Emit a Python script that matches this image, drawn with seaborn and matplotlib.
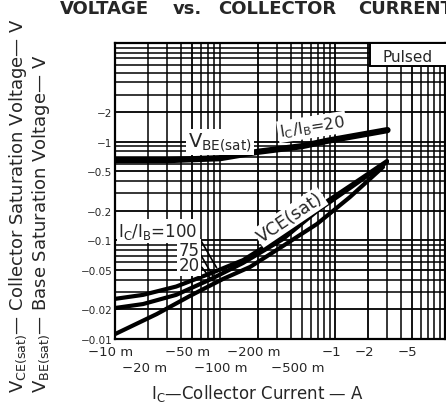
import numpy as np
import pandas as pd
import matplotlib
matplotlib.use("Agg")
import matplotlib.pyplot as plt
import matplotlib.ticker as mticker
import matplotlib.transforms as mtransforms
from matplotlib.patches import Rectangle
import seaborn as sns

# Courbes (valeurs absolues, PNP -> etiquettes negatives)
ic_vbe = [0.01, 0.03, 0.09, 0.2, 0.5, 0.85, 1.7, 3.0]
vbe_20 = [0.65, 0.65, 0.68, 0.79, 0.9, 1.02, 1.17, 1.31]

ic_vce = [0.01, 0.018, 0.036, 0.073, 0.146, 0.337, 0.686, 1.37, 2.97]
vce_100 = [0.0255, 0.028, 0.034, 0.046, 0.063, 0.113, 0.213, 0.356, 0.637]
vce_75 = [0.0206, 0.0226, 0.028, 0.040, 0.059, 0.103, 0.198, 0.339, 0.622]
ic_vce_20 = [0.01, 0.024, 0.048, 0.096, 0.169, 0.337, 0.686, 1.37, 2.73]
vce_20 = [0.0112, 0.0179, 0.0273, 0.0406, 0.0537, 0.0877, 0.1465, 0.275, 0.553]

# Graduations : deux rangees sous l'axe x
x_ticks_row1 = [0.01, 0.05, 0.2, 1, 2, 5]
x_labels_row1 = ["−10 m", "−50 m", "−200 m", "−1", "−2", "−5"]
x_ticks_row2 = [0.02, 0.1, 0.5]
x_labels_row2 = ["−20 m", "−100 m", "−500 m"]
y_ticks = [0.01, 0.02, 0.05, 0.1, 0.2, 0.5, 1, 2]
y_labels = ["−0.01", "−0.02", "−0.05", "−0.1", "−0.2", "−0.5", "−1", "−2"]

sns.set_style("white")
plt.rcParams["font.family"] = "DejaVu Sans"
plt.rcParams["mathtext.fontset"] = "dejavusans"

fig = plt.figure(figsize=(4.46, 4.06), dpi=100)
ax = fig.add_axes([0.2578, 0.1626, 0.740, 0.729])

ax.set_xscale("log")
ax.set_yscale("log")
ax.set_xlim(0.01, 10)
ax.set_ylim(0.01, 10)

# Grille dense facon papier log
ax.xaxis.set_minor_locator(mticker.LogLocator(base=10, subs=np.arange(2, 10)))
ax.yaxis.set_minor_locator(mticker.LogLocator(base=10, subs=np.arange(2, 10)))
ax.xaxis.set_minor_formatter(mticker.NullFormatter())
ax.yaxis.set_minor_formatter(mticker.NullFormatter())
ax.grid(which="major", color="black", lw=1.3, zorder=0)
ax.grid(which="minor", color="black", lw=1.1, zorder=0)
ax.set_axisbelow(True)
for sp in ax.spines.values():
    sp.set_color("black")
    sp.set_linewidth(1.6)

ax.set_xticks(x_ticks_row1)
ax.set_xticklabels(x_labels_row1, fontsize=9.5)
ax.set_yticks(y_ticks)
ax.set_yticklabels(y_labels, fontsize=7.5)
ax.tick_params(which="both", length=0)
ax.tick_params(axis="x", pad=4)
ax.tick_params(axis="y", pad=2)

sec = ax.secondary_xaxis("bottom")
sec.set_xticks(x_ticks_row2)
sec.set_xticklabels(x_labels_row2, fontsize=9.5)
sec.xaxis.set_minor_locator(mticker.NullLocator())
sec.tick_params(which="both", length=0, pad=16)
sec.spines["bottom"].set_visible(False)

offset = mtransforms.ScaledTranslation(-0.04, 0, fig.dpi_scale_trans)
for lab in ax.get_xticklabels() + sec.get_xticklabels():
    lab.set_transform(lab.get_transform() + offset)

# Courbes
sns.lineplot(x=ic_vbe, y=vbe_20, ax=ax, color="black", lw=4.5, sort=False, estimator=None, zorder=3)
sns.lineplot(x=ic_vce, y=vce_100, ax=ax, color="black", lw=3, sort=False, estimator=None, zorder=3)
sns.lineplot(x=ic_vce, y=vce_75, ax=ax, color="black", lw=3, sort=False, estimator=None, zorder=3)
sns.lineplot(x=ic_vce_20, y=vce_20, ax=ax, color="black", lw=3, sort=False, estimator=None, zorder=3)

box = dict(boxstyle="square,pad=0.1", fc="white", ec="none")
ax.text(0.090, 0.99, r"V$_{\mathrm{BE(sat)}}$", fontsize=14, ha="center", va="center", bbox=box, zorder=5)
ax.text(0.618, 1.41, r"I$_{\mathrm{C}}$/I$_{\mathrm{B}}$=20", fontsize=11.5, ha="center", va="center",
        rotation=9, bbox=box, zorder=5)
ax.text(0.39, 0.172, "VCE(sat)", fontsize=12.5, ha="center", va="center", rotation=34, bbox=box, zorder=5)
ax.text(0.0246, 0.1244, r"I$_{\mathrm{C}}$/I$_{\mathrm{B}}$=100", fontsize=12, ha="center", va="center",
        bbox=box, zorder=5)
ax.text(0.047, 0.067, "75\n20", fontsize=12, ha="center", va="center", linespacing=0.8,
        bbox=box, zorder=5)

# Traits de rappel vers les courbes
for (x0, y0), (x1, y1) in [((0.0593, 0.103), (0.0863, 0.050)),
                           ((0.0568, 0.0798), (0.0794, 0.0415)),
                           ((0.0593, 0.0562), (0.0794, 0.037))]:
    ax.annotate("", xy=(x1, y1), xytext=(x0, y0),
                arrowprops=dict(arrowstyle="-", color="black", lw=1.2), zorder=4)

# Cadre "Pulsed"
ax.add_patch(Rectangle((0.773, 0.922), 0.25, 0.078, transform=ax.transAxes, fc="white",
                       ec="black", lw=1.4, zorder=5, clip_on=False))
ax.text(0.885, 0.956, "Pulsed", transform=ax.transAxes, fontsize=11, ha="center", va="center", zorder=6)

# Titres d'axes
fig.text(258 / 446, 1 - 394 / 406, r"I$_{\mathrm{C}}$—Collector Current — A", fontsize=12,
         ha="center", va="center")
fig.text(18 / 446, 1 - 393 / 406, r"V$_{\mathrm{CE(sat)}}$— Collector Saturation Voltage— V",
         rotation=90, fontsize=13, ha="center", va="bottom")
fig.text(41 / 446, 1 - 393 / 406, r"V$_{\mathrm{BE(sat)}}$— Base Saturation Voltage— V",
         rotation=90, fontsize=13, ha="center", va="bottom")

# Titre (coupe a droite comme l'original)
for word, xpx in [("VOLTAGE", 60), ("vs.", 173), ("COLLECTOR", 218), ("CURRENT", 358)]:
    fig.text(xpx / 446, 1 - 9 / 406, word, fontsize=13, fontweight="bold", ha="left", va="center")

fig.savefig("out.png", dpi=100)
